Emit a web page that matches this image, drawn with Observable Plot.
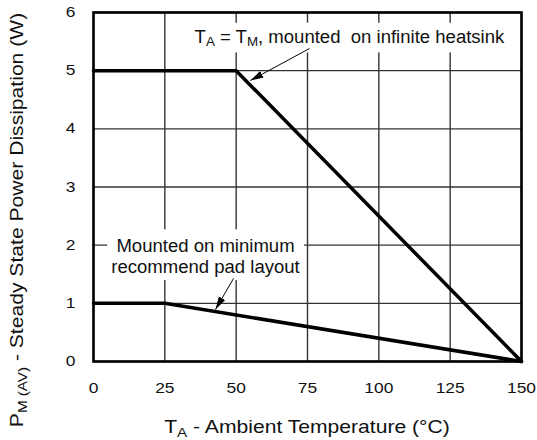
<!DOCTYPE html>
<html><head><meta charset="utf-8">
<script src="https://cdn.jsdelivr.net/npm/d3@7"></script>
<script src="https://cdn.jsdelivr.net/npm/@observablehq/plot@0.6"></script>
<style>
body{margin:0;background:#fff}
svg text{font-family:"Liberation Sans",Arial,Helvetica,sans-serif}
</style>
</head><body><div id="chart"></div>
<script>
// ---- data ----
const xTicks = [0, 25, 50, 75, 100, 125, 150];
const yTicks = [0, 1, 2, 3, 4, 5, 6];
const heatsinkT = [0, 50, 150];
const heatsinkP = [5, 5, 0];
const padT = [0, 25, 150];
const padP = [1, 1, 0];
const noteText = ["T_A = T_M, mounted  on infinite heatsink", "Mounted on minimum\nrecommend pad layout"];
const noteX = [89.7, 39.25];
const noteY = [5.60, 1.816];
const arrowX1 = [75.7, 49.07];
const arrowY1 = [5.381, 1.427];
const arrowX2 = [55.0, 42.76];
const arrowY2 = [4.831, 0.894];
const xLabelParts = [["T", 0], ["A", 1], [" - Ambient Temperature (°C)", 0]];
const yLabelParts = [["P", 0], ["M (AV)", 1], [" - Steady State Power Dissipation (W)", 0]];
const note0Parts = [["T", 0], ["A", 1], [" = T", 0], ["M", 1], [", mounted  on infinite heatsink", 0]];

const plainNotes = noteText.map(s => s.replace(/_/g, ""));
const heatsink = heatsinkT.map((t, i) => ({t, p: heatsinkP[i]}));
const pad = padT.map((t, i) => ({t, p: padP[i]}));
const notes = plainNotes.map((text, i) => ({text, x: noteX[i], y: noteY[i]}));
const arrows = arrowX1.map((x1, i) => ({x1, y1: arrowY1[i], x2: arrowX2[i], y2: arrowY2[i]}));

const W = 537, H = 440, ML = 93, MR = 16, MT = 12, MB = 79;
const NOTE_FS = 18, TICK_FS = 14.5, TITLE_FS = 17.6;
const TICK_SX = 1.2, TITLE_SX = 1.2, NOTE_SX = 1.03;

const plot = Plot.plot({
  width: W, height: H,
  marginLeft: ML, marginRight: MR, marginTop: MT, marginBottom: MB,
  style: {fontFamily: '"Liberation Sans", Arial, sans-serif', background: "#fff", color: "#000"},
  x: {domain: [0, 150], label: null},
  y: {domain: [0, 6], label: null},
  marks: [
    Plot.gridX(xTicks, {stroke: "#333", strokeOpacity: 1, strokeWidth: 1.4}),
    Plot.gridY(yTicks, {stroke: "#333", strokeOpacity: 1, strokeWidth: 1.4}),
    Plot.frame({stroke: "#000", strokeWidth: 2.6}),
    Plot.axisX({ticks: xTicks, tickSize: 0, tickPadding: 21, fontSize: TICK_FS, tickFormat: d => String(d), label: null, fill: "#111"}),
    Plot.axisY({ticks: yTicks, tickSize: 0, tickPadding: 18, fontSize: TICK_FS, tickFormat: d => String(d), label: null, fill: "#111"}),
    Plot.line(heatsink, {x: "t", y: "p", stroke: "#000", strokeWidth: 3.5, strokeLinejoin: "miter"}),
    Plot.line(pad, {x: "t", y: "p", stroke: "#000", strokeWidth: 3.5, strokeLinejoin: "miter"}),
    Plot.text(notes, {x: "x", y: "y", text: "text", fontSize: NOTE_FS, lineHeight: 1.17, fill: "#111"}),
    Plot.link(arrows, {x1: "x1", y1: "y1", x2: "x2", y2: "y2", stroke: "#000", strokeWidth: 1, markerEnd: "arrow"})
  ]
});
document.getElementById("chart").appendChild(plot);
const svg = d3.select(plot);

// filled arrowheads
svg.selectAll("marker").each(function() {
  const m = d3.select(this);
  m.attr("viewBox", "-10 -5 10 10").attr("markerWidth", 13).attr("markerHeight", 13)
   .attr("fill", "#000").attr("stroke", "none");
  m.selectAll("path").attr("d", "M-10,-2.8L0,0L-10,2.8Z");
});

// widen tick labels horizontally to match the reference lettering
svg.selectAll('g[aria-label$="tick label"] text').each(function() {
  const t = this.getAttribute("transform") || "";
  this.setAttribute("transform", t + ` scale(${TICK_SX},1)`);
});

// rich text helper (subscripts)
function rich(sel, parts, size) {
  sel.text(null);
  let shifted = false;
  parts.forEach(([s, sub]) => {
    const t = sel.append("tspan").text(s);
    if (sub && !shifted) { t.attr("font-size", size * 0.72).attr("dy", size * 0.22); shifted = true; }
    else if (!sub && shifted) { t.attr("dy", -size * 0.22); shifted = false; }
  });
}

// annotations: subscripts + white boxes
const noteEls = [];
svg.selectAll("text").each(function() {
  const txt = this.textContent;
  if (txt === plainNotes[0]) noteEls[0] = this;
  else if (txt === plainNotes[1].replace("\n", "")) noteEls[1] = this;
});
d3.select(noteEls[0]).style("white-space", "pre");
rich(d3.select(noteEls[0]), note0Parts, NOTE_FS);
const pads = [[4, 3, 3], [4, 6, 3]];
noteEls.forEach((el, i) => {
  const t = (el.getAttribute("transform") || "") + ` scale(${NOTE_SX},1)`;
  el.setAttribute("transform", t);
  const b = el.getBBox();
  const [px, pt, pb] = pads[i];
  const r = document.createElementNS("http://www.w3.org/2000/svg", "rect");
  r.setAttribute("x", b.x - px); r.setAttribute("y", b.y - pt);
  r.setAttribute("width", b.width + 2 * px); r.setAttribute("height", b.height + pt + pb);
  r.setAttribute("fill", "#fff");
  r.setAttribute("transform", t);
  el.parentNode.insertBefore(r, el);
});

// axis titles
const xl = svg.append("text")
  .attr("transform", `translate(${ML + (W - ML - MR) / 2},433) scale(${TITLE_SX},1)`)
  .attr("text-anchor", "middle").attr("font-size", TITLE_FS).attr("fill", "#111");
rich(xl, xLabelParts, TITLE_FS);
const yl = svg.append("text")
  .attr("transform", `translate(23,${H / 2}) rotate(-90) scale(${TITLE_SX},1)`)
  .attr("text-anchor", "middle").attr("font-size", TITLE_FS).attr("fill", "#111");
rich(yl, yLabelParts, TITLE_FS);
</script>
</body></html>
